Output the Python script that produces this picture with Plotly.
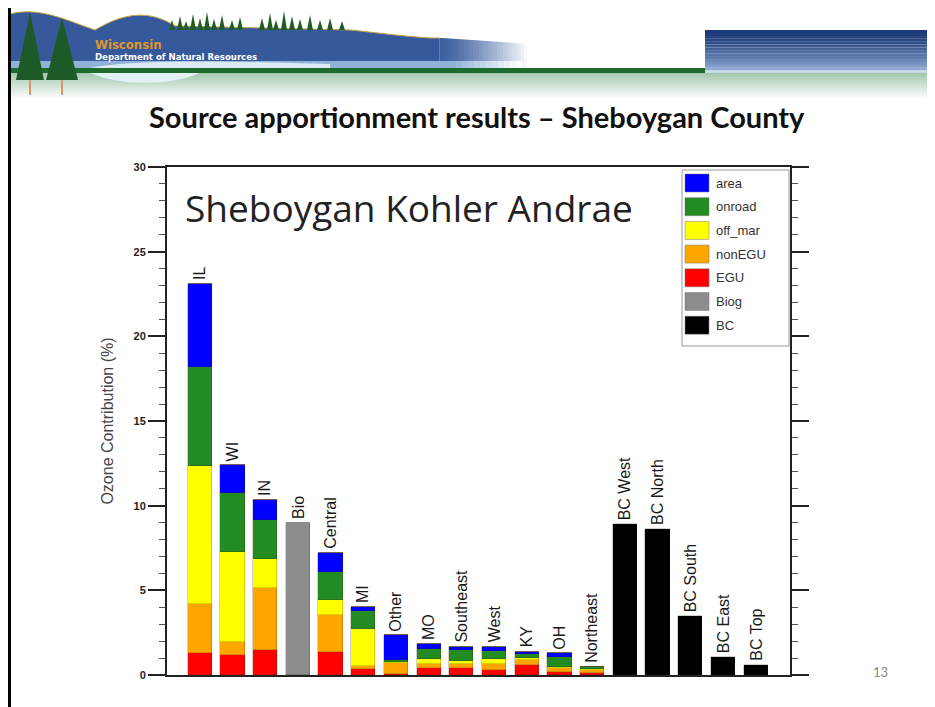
import plotly.graph_objects as go

# ---------------- data ----------------
categories = ["IL", "WI", "IN", "Bio", "Central", "MI", "Other", "MO", "Southeast",
              "West", "KY", "OH", "Northeast", "BC West", "BC North", "BC South",
              "BC East", "BC Top"]
egu     = [1.28, 1.18, 1.48, 0, 1.38, 0.33, 0.08, 0.39, 0.39, 0.30, 0.59, 0.20, 0.12, 0, 0, 0, 0, 0]
nonegu  = [2.91, 0.79, 3.64, 0, 2.16, 0.20, 0.65, 0.26, 0.28, 0.33, 0.30, 0.19, 0.20, 0, 0, 0, 0, 0]
off_mar = [8.16, 5.28, 1.73, 0, 0.89, 2.19, 0.05, 0.30, 0.16, 0.30, 0.09, 0.10, 0.05, 0, 0, 0, 0, 0]
onroad  = [5.82, 3.48, 2.31, 0, 1.67, 1.06, 0.12, 0.59, 0.65, 0.49, 0.26, 0.59, 0.10, 0, 0, 0, 0, 0]
area    = [4.93, 1.67, 1.18, 0, 1.09, 0.25, 1.45, 0.27, 0.19, 0.25, 0.14, 0.20, 0.02, 0, 0, 0, 0, 0]
biog    = [0, 0, 0, 9.0, 0, 0, 0, 0, 0, 0, 0, 0, 0, 0, 0, 0, 0, 0]
bc      = [0, 0, 0, 0, 0, 0, 0, 0, 0, 0, 0, 0, 0, 8.92, 8.60, 3.48, 1.08, 0.59]

series_names = ["EGU", "nonEGU", "off_mar", "onroad", "area", "Biog", "BC"]
series_vals = [egu, nonegu, off_mar, onroad, area, biog, bc]
series_colors = ["#ff0000", "#ffa500", "#ffff00", "#228b22", "#0000ff", "#8c8c8c", "#000000"]
legend_order = ["area", "onroad", "off_mar", "nonEGU", "EGU", "Biog", "BC"]

y_ticks = [0, 5, 10, 15, 20, 25, 30]

# ---------------- layout helpers ----------------
W, H = 935, 707
OFF = 8                            # page body margin in the browser
SL, SR, ST, SB = 167, 790, 167, 675  # plot area in screen pixels


def px(x):
    return (x - SL) / (SR - SL)


def py(y):
    return (SB - y) / (SB - ST)


def P(x, y):
    return f"{px(x):.5f},{py(y):.5f}"


xs = list(range(1, len(categories) + 1))

fig = go.Figure()
for name, vals, col in zip(series_names, series_vals, series_colors):
    fig.add_trace(go.Bar(
        x=xs, y=vals, name=name, width=0.74,
        marker=dict(color=col, line=dict(color="rgba(60,30,0,0.35)", width=0.6)),
        showlegend=False,
    ))

totals = [sum(v[i] for v in series_vals) for i in range(len(categories))]
annotations = []
for xi, cat, tot in zip(xs, categories, totals):
    annotations.append(dict(
        x=xi, y=tot, xref="x", yref="y", text=cat, textangle=-90,
        showarrow=False, xanchor="center", yanchor="bottom", yshift=2,
        font=dict(family="Liberation Sans, Arial", size=16, color="#1a1a1a"),
    ))

shapes = []

# ---------------- custom legend ----------------
color_of = dict(zip(series_names, series_colors))
shapes.append(dict(type="rect", xref="paper", yref="paper",
                   x0=px(682), x1=px(789), y0=py(346), y1=py(170),
                   line=dict(color="#9a9a9a", width=1), fillcolor="white", layer="below"))
for k, nm in enumerate(legend_order):
    yc = 183 + k * 23.7
    shapes.append(dict(type="rect", xref="paper", yref="paper",
                       x0=px(685), x1=px(709), y0=py(yc + 9), y1=py(yc - 9),
                       line=dict(color="#777777", width=0.5), fillcolor=color_of[nm]))
    annotations.append(dict(x=px(714), y=py(yc), xref="paper", yref="paper", text=nm,
                            showarrow=False, xanchor="left", yanchor="middle",
                            font=dict(family="Liberation Sans, Arial", size=13, color="#333333")))

# chart inner title
annotations.append(dict(x=px(183), y=py(207), xref="paper", yref="paper",
                        text="Sheboygan Kohler Andrae", showarrow=False,
                        xanchor="left", yanchor="middle",
                        font=dict(family="Open Sans", size=37, color="#222222")))

# slide title
annotations.append(dict(x=px(477), y=py(117), xref="paper", yref="paper",
                        text="<b>Source apportionment results – Sheboygan County</b>",
                        showarrow=False, xanchor="center", yanchor="middle",
                        font=dict(family="Lato", size=29, color="#111111")))

# page number
annotations.append(dict(x=px(880), y=py(672), xref="paper", yref="paper", text="13",
                        showarrow=False, xanchor="center", yanchor="middle",
                        font=dict(family="Lato", size=13, color="#888888")))


# ---------------- slide banner ----------------
def prect(x0, y0, x1, y1, color):
    return dict(type="rect", xref="paper", yref="paper", x0=px(x0), x1=px(x1),
                y0=py(y1), y1=py(y0), fillcolor=color, line=dict(width=0), layer="below")


def mix(c1, c2, t):
    a = [int(c1[i:i + 2], 16) for i in (1, 3, 5)]
    b = [int(c2[i:i + 2], 16) for i in (1, 3, 5)]
    return "#" + "".join(f"{round(a[j] + (b[j] - a[j]) * t):02x}" for j in range(3))


# pale green gradient band under banner
n = 14
for i in range(n):
    shapes.append(prect(8, 72 + i * 2, W, 74.5 + i * 2, mix("#a3c7ae", "#ffffff", i / (n - 1))))

# right blue bar with gradient
n = 14
for i in range(n):
    shapes.append(prect(705, 30 + i * 2.9, W, 33 + i * 2.9, mix("#1d3b78", "#8fa9d4", (i / (n - 1)) ** 1.4)))
shapes.append(prect(705, 70, W, 73, "#c9d9ea"))

# left logo blue hills
d = (f"M {P(10,70)} L {P(10,14)} C {P(40,6)} {P(70,22)} {P(95,30)} "
     f"C {P(125,12)} {P(150,10)} {P(175,26)} L {P(350,30)} "
     f"C {P(380,33)} {P(400,36)} {P(430,38)} L {P(440,38)} L {P(440,70)} Z")
shapes.append(dict(type="path", xref="paper", yref="paper", path=d,
                   fillcolor="#35599b", line=dict(color="#c8a040", width=1), layer="below"))
# fade of the hills into white
n = 30
for i in range(n):
    shapes.append(prect(440 + i * 3, 38 + i * 0.2, 443.5 + i * 3, 70,
                        mix("#3d60a0", "#ffffff", (i / (n - 1)) ** 1.3)))
# light water strip
shapes.append(prect(10, 61, 450, 68, "#8fb3d8"))
for i in range(12):
    shapes.append(prect(450 + i * 6, 61, 456.5 + i * 6, 68, mix("#8fb3d8", "#ffffff", i / 11)))
shapes.append(dict(type="path", xref="paper", yref="paper",
                   path=f"M {P(90,68)} C {P(140,58)} {P(250,62)} {P(330,64)} L {P(330,68)} Z",
                   fillcolor="#dceaf6", line=dict(width=0), layer="below"))
# green ground line
shapes.append(prect(8, 68, 705, 73, "#1d6b2d"))
# pale wave under banner
shapes.append(dict(type="path", xref="paper", yref="paper",
                   path=f"M {P(90,73)} C {P(120,86)} {P(170,86)} {P(200,73)} Z",
                   fillcolor="#e3f0f4", line=dict(width=0), layer="below"))
# small tree line
tree_x = [172, 180, 186, 193, 200, 207, 214, 222, 232, 240, 262, 270, 276, 284, 292, 300, 310, 320, 330, 342]
tree_h = [10, 14, 9, 16, 12, 18, 11, 15, 10, 13, 12, 17, 10, 19, 14, 11, 15, 10, 12, 9]
for tx, th in zip(tree_x, tree_h):
    shapes.append(dict(type="path", xref="paper", yref="paper",
                       path=f"M {P(tx-3,30)} L {P(tx,30-th)} L {P(tx+3,30)} Z",
                       fillcolor="#1f5d22", line=dict(width=0), layer="below"))
# big trees on left with trunks
for cx, top, half in [(30, 12, 14), (62, 18, 16)]:
    shapes.append(prect(cx - 1, 60, cx + 1, 95, "#e0955a"))
    shapes.append(dict(type="path", xref="paper", yref="paper",
                       path=f"M {P(cx-half,80)} L {P(cx,top)} L {P(cx+half,80)} Z",
                       fillcolor="#1e5a27", line=dict(width=0), layer="below"))
annotations.append(dict(x=px(93), y=py(45), xref="paper", yref="paper", text="<b>Wisconsin</b>",
                        showarrow=False, xanchor="left", yanchor="middle",
                        font=dict(family="DejaVu Sans Condensed, DejaVu Sans", size=13, color="#e0962a")))
annotations.append(dict(x=px(93), y=py(57), xref="paper", yref="paper",
                        text="<b>Department of Natural Resources</b>",
                        showarrow=False, xanchor="left", yanchor="middle",
                        font=dict(family="DejaVu Sans Condensed, DejaVu Sans", size=9.5, color="#ffffff")))

# slide frame line (left)
shapes.append(prect(8, 4, 11, H, "#000000"))

fig.update_layout(
    width=W, height=H,
    margin=dict(l=SL - OFF, r=W - (SR - OFF), t=ST - OFF, b=H - (SB - OFF), pad=0),
    paper_bgcolor="white", plot_bgcolor="white",
    barmode="stack", bargap=0,
    showlegend=False,
    shapes=shapes, annotations=annotations,
    xaxis=dict(range=[0, 19.05], showticklabels=False, ticks="", showgrid=False,
               zeroline=False, showline=True, linecolor="#222222", linewidth=2, mirror=True),
    yaxis=dict(range=[0, 30], tickvals=y_ticks, ticktext=[str(v) for v in y_ticks],
               ticks="outside", ticklen=17, tickwidth=2, tickcolor="#222222",
               minor=dict(dtick=1, ticks="outside", ticklen=6, tickwidth=1, tickcolor="#555555"),
               showgrid=False, zeroline=False, showline=True, linecolor="#222222",
               linewidth=2, mirror="ticks",
               tickfont=dict(family="Liberation Sans, Arial", size=11, color="#222222", weight="bold"),
               title=dict(text="Ozone Contribution (%)", standoff=16,
                          font=dict(family="Liberation Sans, Arial", size=16, color="#444444"))),
)

fig.write_html("out.html")
